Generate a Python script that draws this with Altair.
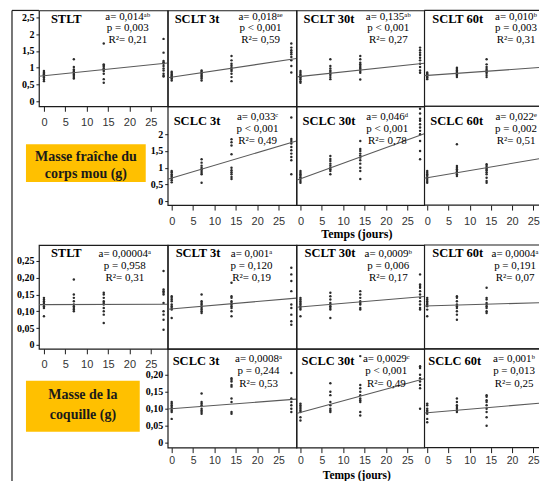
import altair as alt
import pandas as pd

# ---------------- data ----------------
DAYS = [0, 7, 14, 28]
X_TICKS = [0, 5, 10, 15, 20, 25]
Y_TICKS_FRESH_TOP = [0, 0.5, 1, 1.5, 2, 2.5]
Y_TICKS_FRESH_LOW = [0, 0.5, 1, 1.5, 2]
Y_TICKS_SHELL_TOP = [0, 0.05, 0.10, 0.15, 0.20, 0.25]
Y_TICKS_SHELL_LOW = [0, 0.05, 0.10, 0.15, 0.20]

# Masse fraîche du corps mou (g)
fresh_stlt = {0: [0.9, 0.86, 0.82, 0.8, 0.78, 0.75, 0.72, 0.7, 0.65, 0.6],
              7: [1.25, 1.02, 0.95, 0.9, 0.87, 0.84, 0.8, 0.76, 0.72, 0.68],
              14: [1.72, 1.1, 1.07, 1.03, 0.98, 0.95, 0.9, 0.82, 0.66, 0.55],
              28: [1.86, 1.45, 1.2, 1.16, 1.12, 1.05, 0.98, 0.92, 0.82, 0.76, 0.74]}
fresh_sclt3 = {0: [0.88, 0.84, 0.8, 0.76, 0.73, 0.7, 0.67, 0.62],
               7: [0.92, 0.88, 0.85, 0.82, 0.78, 0.75, 0.72, 0.68, 0.62],
               14: [1.35, 1.22, 1.12, 1.06, 1.0, 0.95, 0.9, 0.82, 0.72, 0.6],
               28: [1.72, 1.6, 1.52, 1.46, 1.4, 1.32, 1.22, 1.05, 0.86]}
fresh_sclt30 = {0: [0.9, 0.85, 0.8, 0.76, 0.73, 0.7, 0.66, 0.6, 0.55],
                7: [1.25, 1.05, 0.98, 0.92, 0.87, 0.82, 0.78, 0.72, 0.66],
                14: [1.35, 1.25, 1.15, 1.1, 1.05, 1.0, 0.96, 0.9, 0.85, 0.65],
                28: [1.6, 1.52, 1.45, 1.38, 1.3, 1.22, 1.12, 1.02, 0.92, 0.85]}
fresh_sclt60 = {0: [0.86, 0.82, 0.8, 0.78, 0.75, 0.72, 0.7, 0.66],
                7: [1.0, 0.96, 0.92, 0.88, 0.85, 0.8, 0.76, 0.72],
                14: [1.25, 1.1, 1.02, 0.96, 0.92, 0.88, 0.84, 0.78, 0.72],
                28: [1.45, 1.22, 1.16, 1.1, 1.05, 1.0, 0.95, 0.6]}
fresh_sclc3 = {0: [0.9, 0.86, 0.8, 0.76, 0.72, 0.67, 0.62, 0.56],
               7: [1.25, 1.15, 1.06, 1.0, 0.95, 0.9, 0.85, 0.8, 0.55],
               14: [1.85, 1.76, 1.66, 1.4, 1.0, 0.92, 0.86, 0.8, 0.72, 0.66],
               28: [2.5, 1.86, 1.8, 1.72, 1.62, 1.52, 1.42, 1.32, 1.22, 0.8]}
fresh_sclc30 = {0: [0.9, 0.85, 0.8, 0.76, 0.71, 0.66, 0.6, 0.55],
                7: [1.35, 1.26, 1.2, 1.12, 1.06, 1.0, 0.95, 0.9, 0.8],
                14: [1.8, 1.56, 1.5, 1.42, 1.36, 1.3, 1.22, 1.12, 1.0, 0.9, 0.66],
                28: [2.76, 2.62, 2.46, 2.4, 2.3, 2.2, 2.1, 2.0, 1.8, 1.5, 1.25]}
fresh_sclc60 = {0: [0.9, 0.85, 0.8, 0.76, 0.71, 0.66, 0.6, 0.55],
                7: [1.7, 1.05, 1.0, 0.95, 0.9, 0.86, 0.8, 0.75],
                14: [1.1, 1.05, 1.0, 0.96, 0.92, 0.86, 0.8, 0.7, 0.6, 0.55],
                28: [2.05, 1.96, 1.9, 1.85, 1.8, 1.75, 1.7, 1.0, 0.95, 0.9]}

# Masse de la coquille (g)
shell_stlt = {0: [0.14, 0.135, 0.13, 0.125, 0.12, 0.115, 0.11, 0.085],
              7: [0.195, 0.15, 0.14, 0.13, 0.12, 0.115, 0.11, 0.105, 0.1],
              14: [0.155, 0.15, 0.14, 0.13, 0.125, 0.12, 0.11, 0.1, 0.09, 0.065],
              28: [0.22, 0.165, 0.16, 0.155, 0.15, 0.125, 0.1, 0.09, 0.075, 0.045]}
shell_sclt3 = {0: [0.145, 0.14, 0.135, 0.13, 0.12, 0.115, 0.11, 0.105, 0.08],
               7: [0.15, 0.13, 0.125, 0.12, 0.115, 0.11, 0.105, 0.1, 0.095],
               14: [0.185, 0.145, 0.14, 0.13, 0.125, 0.12, 0.115, 0.11, 0.1, 0.085],
               28: [0.23, 0.21, 0.19, 0.16, 0.12, 0.11, 0.09, 0.07, 0.06]}
shell_sclt30 = {0: [0.14, 0.135, 0.13, 0.125, 0.12, 0.115, 0.11, 0.105, 0.085],
                7: [0.155, 0.145, 0.135, 0.125, 0.12, 0.115, 0.11, 0.105, 0.08],
                14: [0.16, 0.15, 0.14, 0.13, 0.125, 0.12, 0.11, 0.105],
                28: [0.21, 0.18, 0.175, 0.17, 0.16, 0.15, 0.14, 0.13, 0.12, 0.11, 0.105]}
shell_sclt60 = {0: [0.14, 0.135, 0.13, 0.125, 0.12, 0.115, 0.105, 0.085],
                7: [0.145, 0.14, 0.13, 0.12, 0.115, 0.11, 0.1, 0.09, 0.075],
                14: [0.17, 0.14, 0.135, 0.125, 0.12, 0.115, 0.11, 0.1, 0.095],
                28: [0.18, 0.16, 0.15, 0.145, 0.14, 0.13, 0.125, 0.08, 0.07]}
shell_sclc3 = {0: [0.12, 0.115, 0.11, 0.105, 0.1, 0.095, 0.09, 0.07],
               7: [0.145, 0.12, 0.115, 0.11, 0.1, 0.095, 0.09, 0.085],
               14: [0.19, 0.185, 0.18, 0.17, 0.165, 0.13, 0.12, 0.09, 0.085],
               28: [0.205, 0.13, 0.12, 0.11, 0.1, 0.09]}
shell_sclc30 = {0: [0.115, 0.11, 0.105, 0.1, 0.095, 0.09, 0.075, 0.065],
                7: [0.175, 0.15, 0.14, 0.12, 0.11, 0.1, 0.095, 0.09],
                14: [0.255, 0.17, 0.16, 0.15, 0.14, 0.13, 0.125, 0.12, 0.09, 0.08],
                28: [0.225, 0.22, 0.2, 0.19, 0.18, 0.17, 0.16, 0.1]}
shell_sclc60 = {0: [0.115, 0.11, 0.1, 0.095, 0.09, 0.085, 0.07, 0.06],
                7: [0.13, 0.12, 0.11, 0.105, 0.1, 0.095, 0.09],
                14: [0.14, 0.135, 0.125, 0.12, 0.11, 0.1, 0.09, 0.075, 0.05],
                28: [0.145, 0.14, 0.135, 0.13, 0.09, 0.085]}

# regression lines: value at day 0 and at day 28
FRESH_TOP_LINES = [(0.76, 1.13), (0.72, 1.25), (0.74, 1.12), (0.77, 1.02)]
FRESH_LOW_LINES = [(0.69, 1.75), (0.67, 1.97), (0.70, 1.30)]
SHELL_TOP_LINES = [(0.120, 0.121), (0.107, 0.138), (0.113, 0.143), (0.116, 0.126)]
SHELL_LOW_LINES = [(0.100, 0.127), (0.089, 0.185), (0.088, 0.118)]

TOP_NAMES = ["STLT", "SCLT 3t", "SCLT 30t", "SCLT 60t"]
LOW_NAMES = ["SCLC 3t", "SCLC 30t", "SCLC 60t"]

FRESH_TOP_STATS = [("a= 0,014ᵃᵇ", "p = 0,003", "R²= 0,21"),
                   ("a= 0,018ᵃᵉ", "p < 0,001", "R²= 0,59"),
                   ("a= 0,135ᵃᵇ", "p < 0,001", "R²= 0,27"),
                   ("a= 0,010ᵇ", "p = 0,003", "R²= 0,31")]
FRESH_LOW_STATS = [("a= 0,033ᶜ", "p < 0,001", "R²= 0,49"),
                   ("a= 0,046ᵈ", "p < 0,001", "R²= 0,78"),
                   ("a= 0,022ᵉ", "p = 0,002", "R²= 0,51")]
SHELL_TOP_STATS = [("a= 0,00004ᵃ", "p = 0,958", "R²= 0,31"),
                   ("a= 0,001ᵃ", "p = 0,120", "R²= 0,19"),
                   ("a= 0,0009ᵇ", "p = 0,006", "R²= 0,17"),
                   ("a= 0,0004ᵃ", "p = 0,191", "R²= 0,07")]
SHELL_LOW_STATS = [("a= 0,0008ᵃ", "p = 0,244", "R²= 0,53"),
                   ("a= 0,0029ᶜ", "p < 0,001", "R²= 0,49"),
                   ("a= 0,001ᵇ", "p = 0,013", "R²= 0,25")]

FRESH_LABEL = ["Masse fraîche du", "corps mou   (g)"]
SHELL_LABEL = ["Masse de la", "coquille (g)"]
X_TITLE = "Temps (jours)"

# ---------------- layout / style ----------------
COL_W = [129, 129, 128, 115]
ROW_H = [96, 99, 104, 99]
GAP_H = 40
X_DOM = [[-1.17, 28.97], [-0.935, 29.2], [-0.935, 28.97], [-0.706, 26.35]]
Y_DOM = [[-0.149, 2.708], [-0.119, 2.836], [-0.0119, 0.2976], [-0.0147, 0.2765]]
TITLE_X = [[12, 7, 7, 8], [0, 6, 6, 6], [12, 8, 8, 8], [0, 5, 5, 4]]
STAT_X = [[89, 93, 92, 92], [0, 90, 91, 92], [86, 84, 92, 91], [0, 91, 90, 90]]
TITLE_Y = [8.5, 15, 8, 12]
STAT_Y = [[6.5, 18, 29.5], [11, 23, 35], [9.5, 21.5, 33], [10, 22, 35]]

INK = "#1c1c1c"
SERIF = "Liberation Serif"
SANS = "Liberation Sans"
ONE = pd.DataFrame({"k": [0]})

FRESH_EXPR = "replace(format(datum.value, '~g'), '.', ',')"
SHELL_EXPR = "datum.value == 0 ? '0' : replace(format(datum.value, '.2f'), '.', ',')"


def x_axis(title=None, title_y=27, pad=5, lsize=11, tsize=12):
    kw = dict(values=X_TICKS, domain=False, grid=False, ticks=True, tickSize=5,
              tickColor=INK, tickWidth=1, labelFont=SANS, labelFontSize=lsize,
              labelColor="#333333", labelPadding=pad, labelAngle=0,
              labelFlush=False, labelOverlap=False)
    if title:
        kw.update(title=title, titleFont=SERIF, titleFontSize=tsize, titleFontWeight="bold",
                  titleColor="#000000", titleX=60, titleY=title_y, titleAlign="center",
                  titleBaseline="middle")
    else:
        kw["title"] = None
    return alt.Axis(**kw)


def y_axis(values, expr):
    return alt.Axis(values=values, labelExpr=expr, title=None, domain=False, grid=False,
                    ticks=True, tickSize=3, tickColor=INK, labelFont=SERIF, labelFontSize=10,
                    labelFontWeight="bold", labelColor="#000000", labelPadding=2,
                    labelFlush=False, labelOverlap=False)


def panel(values, line, name, stats, row, col, xaxis=None, yaxis=None, extra=()):
    pts = pd.DataFrame([(d, v) for d in DAYS for v in values[d]], columns=["day", "value"])
    xd, yd = X_DOM[col], Y_DOM[row]
    b, e = line
    ln = pd.DataFrame({"day": xd, "value": [b + (e - b) * x / 28 for x in xd]})
    X = alt.X("day:Q", scale=alt.Scale(domain=xd, nice=False, zero=False), axis=xaxis)
    Y = alt.Y("value:Q", scale=alt.Scale(domain=yd, nice=False, zero=False), axis=yaxis)
    layers = [
        alt.Chart(pts).mark_circle(size=6, color="#2b2b2b", opacity=1, clip=True).encode(x=X, y=Y),
        alt.Chart(ln).mark_line(color="#5a5a5a", strokeWidth=1.1, clip=True).encode(x=X, y=Y),
    ]
    info = pd.DataFrame({"t": [name], "a": [stats[0]], "p": [stats[1]], "r": [stats[2]]})
    layers.append(alt.Chart(info).mark_text(font=SERIF, fontSize=12.5, fontWeight="bold",
                                            align="left", baseline="middle", color="#000000")
                  .encode(text="t:N", x=alt.value(TITLE_X[row][col]), y=alt.value(TITLE_Y[row])))
    for field, yy in zip(["a", "p", "r"], STAT_Y[row]):
        layers.append(alt.Chart(info).mark_text(font=SERIF, fontSize=11, align="center",
                                                baseline="middle", color="#000000")
                      .encode(text=f"{field}:N", x=alt.value(STAT_X[row][col]), y=alt.value(yy)))
    if col == 3:
        for yy in (0, ROW_H[row]):
            layers.append(alt.Chart(ONE).mark_rule(color=INK, strokeWidth=1.2)
                          .encode(x=alt.value(0), x2=alt.value(COL_W[3]), y=alt.value(yy)))
    layers.extend(extra)
    ch = alt.layer(*layers).properties(width=COL_W[col], height=ROW_H[row])
    if col == 3:
        ch = ch.properties(view=alt.ViewBackground(stroke=None))
    return ch


def label_panel(lines, box, tx, tys, row):
    rect = alt.Chart(ONE).mark_rect(color="#FFC000").encode(
        x=alt.value(box[0]), x2=alt.value(box[1]), y=alt.value(box[2]), y2=alt.value(box[3]))
    texts = [alt.Chart(pd.DataFrame({"t": [s]})).mark_text(
        font=SERIF, fontSize=14, fontWeight="bold", align="center", baseline="middle",
        color="#1a1a1a").encode(text="t:N", x=alt.value(tx), y=alt.value(ty))
        for s, ty in zip(lines, tys)]
    return alt.layer(rect, *texts).properties(width=COL_W[0], height=ROW_H[row],
                                              view=alt.ViewBackground(stroke=None))


def spacer(col):
    return alt.Chart(ONE).mark_point(opacity=0, size=1).encode(
        x=alt.value(1), y=alt.value(1)).properties(
        width=COL_W[col], height=GAP_H, view=alt.ViewBackground(stroke=None))


frame = [
    alt.Chart(ONE).mark_rule(color=INK, strokeWidth=1.2).encode(
        x=alt.value(-27), y=alt.value(0), y2=alt.value(472)),
    alt.Chart(ONE).mark_rule(color=INK, strokeWidth=1.2).encode(
        x=alt.value(-27), x2=alt.value(0), y=alt.value(0)),
]

fresh_top = [fresh_stlt, fresh_sclt3, fresh_sclt30, fresh_sclt60]
fresh_low = [fresh_sclc3, fresh_sclc30, fresh_sclc60]
shell_top = [shell_stlt, shell_sclt3, shell_sclt30, shell_sclt60]
shell_low = [shell_sclc3, shell_sclc30, shell_sclc60]

cells = []
# row 1
for c in range(4):
    cells.append(panel(fresh_top[c], FRESH_TOP_LINES[c], TOP_NAMES[c], FRESH_TOP_STATS[c], 0, c,
                       xaxis=x_axis() if c == 0 else None,
                       yaxis=y_axis(Y_TICKS_FRESH_TOP, FRESH_EXPR) if c == 0 else None,
                       extra=frame if c == 0 else ()))
# row 2
cells.append(label_panel(FRESH_LABEL, (-13, 107, 38, 76), 47, (51, 68), 1))
for c in range(1, 4):
    cells.append(panel(fresh_low[c - 1], FRESH_LOW_LINES[c - 1], LOW_NAMES[c - 1],
                       FRESH_LOW_STATS[c - 1], 1, c,
                       xaxis=x_axis(X_TITLE if c == 2 else None, 28),
                       yaxis=y_axis(Y_TICKS_FRESH_LOW, FRESH_EXPR) if c == 1 else None))
# gap
for c in range(4):
    cells.append(spacer(c))
# row 3
for c in range(4):
    cells.append(panel(shell_top[c], SHELL_TOP_LINES[c], TOP_NAMES[c], SHELL_TOP_STATS[c], 2, c,
                       xaxis=x_axis() if c == 0 else None,
                       yaxis=y_axis(Y_TICKS_SHELL_TOP, SHELL_EXPR) if c == 0 else None))
# row 4
cells.append(label_panel(SHELL_LABEL, (-13, 101, 32, 83), 44, (46, 66), 3))
for c in range(1, 4):
    cells.append(panel(shell_low[c - 1], SHELL_LOW_LINES[c - 1], LOW_NAMES[c - 1],
                       SHELL_LOW_STATS[c - 1], 3, c,
                       xaxis=x_axis(X_TITLE if c == 2 else None, 27.5, pad=3, lsize=10.5, tsize=11.5),
                       yaxis=y_axis(Y_TICKS_SHELL_LOW, SHELL_EXPR) if c == 1 else None))

chart = alt.concat(*cells, columns=4, spacing=0, bounds="flush", align="each").properties(
    padding={"left": 2, "top": 0, "right": 0, "bottom": 0}, background="white"
).configure_view(stroke=INK, strokeWidth=1.2)

chart.save("out.html", embed_options={"renderer": "svg", "actions": False})
